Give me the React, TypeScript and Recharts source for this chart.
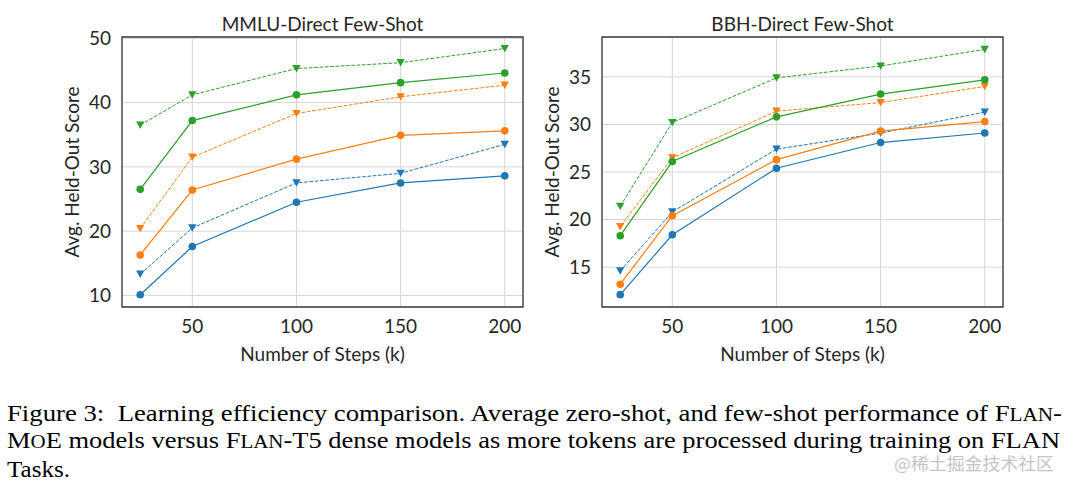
import React from 'react';
import { LineChart, Line, XAxis, YAxis, CartesianGrid, ReferenceArea } from 'recharts';

// ---- data ----
const steps = [25, 50, 100, 150, 200];
const xTicks = [50, 100, 150, 200];

const mmluTitle = 'MMLU-Direct Few-Shot';
const mmluTicks = [10, 20, 30, 40, 50];
const mmluBlueSolid = [10.1, 17.6, 24.5, 27.5, 28.6];
const mmluBlueDashed = [13.3, 20.5, 27.5, 29.0, 33.5];
const mmluOrangeSolid = [16.3, 26.4, 31.2, 34.9, 35.6];
const mmluOrangeDashed = [20.4, 31.5, 38.3, 40.9, 42.7];
const mmluGreenSolid = [26.5, 37.2, 41.2, 43.1, 44.6];
const mmluGreenDashed = [36.5, 41.2, 45.3, 46.2, 48.4];

const bbhTitle = 'BBH-Direct Few-Shot';
const bbhTicks = [15, 20, 25, 30, 35];
const bbhBlueSolid = [12.1, 18.4, 25.4, 28.1, 29.1];
const bbhBlueDashed = [14.6, 20.8, 27.4, 29.1, 31.3];
const bbhOrangeSolid = [13.2, 20.4, 26.3, 29.3, 30.3];
const bbhOrangeDashed = [19.25, 26.5, 31.4, 32.3, 34.0];
const bbhGreenSolid = [18.3, 26.1, 30.8, 33.2, 34.7];
const bbhGreenDashed = [21.4, 30.2, 34.9, 36.15, 37.9];

const yLabel = 'Avg. Held-Out Score';
const xLabel = 'Number of Steps (k)';

const BLUE = '#1f77b4';
const ORANGE = '#ff7f0e';
const GREEN = '#2ca02c';
const FONT = 'Lato, "DejaVu Sans", sans-serif';
const TEXT = '#262626';
const X_DOMAIN: [number, number] = [16.25, 208.75];

function TriangleDot(props: any) {
  const { cx, cy, fill, index } = props;
  if (cx == null || cy == null) return <g key={index} />;
  const d = `M${cx - 4.2},${cy - 3.6} L${cx + 4.2},${cy - 3.6} L${cx},${cy + 3.8} Z`;
  return <path key={index} d={d} fill={fill} stroke="none" />;
}

function makeTri(color: string) {
  return (p: any) => <TriangleDot {...p} key={p.index} fill={color} />;
}

function Panel(props: {
  left: number;
  title: string;
  yDomain: [number, number];
  yTicks: number[];
  bs: number[]; bd: number[]; os: number[]; od: number[]; gs: number[]; gd: number[];
}) {
  const { left, title, yDomain, yTicks, bs, bd, os, od, gs, gd } = props;
  const data = steps.map((s, i) => ({
    step: s, bs: bs[i], bd: bd[i], os: os[i], od: od[i], gs: gs[i], gd: gd[i],
  }));
  const solid = (key: string, color: string) => (
    <Line key={key} dataKey={key} stroke={color} strokeWidth={1.2} isAnimationActive={false}
      dot={{ r: 3.8, fill: color, stroke: color, strokeWidth: 0 }} activeDot={false} />
  );
  const dashed = (key: string, color: string) => (
    <Line key={key} dataKey={key} stroke={color} strokeWidth={1} strokeDasharray="3.7 1.6"
      isAnimationActive={false} dot={makeTri(color)} activeDot={false} />
  );
  return (
    <div style={{ position: 'absolute', left, top: 0, width: 540, height: 370 }}>
      <div style={{
        position: 'absolute', left: 122, top: 12, width: 401, textAlign: 'center',
        fontSize: 19, lineHeight: '24px', color: TEXT, fontFamily: FONT,
      }}>{title}</div>
      <LineChart width={540} height={370} data={data} margin={{ top: 37, right: 17, bottom: 0, left: 0 }}>
        <CartesianGrid stroke="#d6d6d6" strokeWidth={1} />
        <XAxis dataKey="step" type="number" domain={X_DOMAIN} ticks={xTicks} allowDataOverflow
          height={63} tickSize={0} tickMargin={13} axisLine={false} tickLine={false}
          tick={{ fontSize: 19, fill: TEXT, fontFamily: FONT }}
          label={{ value: xLabel, position: 'insideBottom', offset: 9, fontSize: 19, fill: TEXT, fontFamily: FONT }} />
        <YAxis type="number" domain={yDomain} ticks={yTicks} allowDataOverflow width={122}
          tickSize={0} tickMargin={11} axisLine={false} tickLine={false}
          tick={{ fontSize: 19, fill: TEXT, fontFamily: FONT }}
          label={{ value: yLabel, angle: -90, position: 'insideLeft', offset: 72, fontSize: 19, fill: TEXT, fontFamily: FONT, style: { textAnchor: 'middle' } }} />
        {solid('bs', BLUE)}
        {dashed('bd', BLUE)}
        {solid('os', ORANGE)}
        {dashed('od', ORANGE)}
        {solid('gs', GREEN)}
        {dashed('gd', GREEN)}
        <ReferenceArea x1={X_DOMAIN[0]} x2={X_DOMAIN[1]} y1={yDomain[0]} y2={yDomain[1]}
          fill="none" fillOpacity={0} stroke="#3a3a3a" strokeWidth={1.3} ifOverflow="visible" />
      </LineChart>
    </div>
  );
}

const SERIF = '"Liberation Serif", "Times New Roman", Times, serif';

function Caption() {
  const small = { fontSize: '19px' };
  const base: React.CSSProperties = { fontFamily: SERIF, fontSize: '24px', fill: '#000', whiteSpace: 'pre' };
  return (
    <svg width={1070} height={99} style={{ position: 'absolute', left: 0, top: 390 }}>
      <text x={7} y={30.5} textLength={1055} lengthAdjust="spacingAndGlyphs" style={base} xmlSpace="preserve">
        {'Figure 3:  Learning efficiency comparison. Average zero-shot, and few-shot performance of F'}
        <tspan style={small}>LAN</tspan>{'-'}
      </text>
      <text x={7} y={58} textLength={1053} lengthAdjust="spacingAndGlyphs" style={base} xmlSpace="preserve">
        {'M'}<tspan style={small}>O</tspan>{'E models versus F'}<tspan style={small}>LAN</tspan>
        {'-T5 dense models as more tokens are processed during training on FLAN'}
      </text>
      <text x={7} y={87} textLength={63} lengthAdjust="spacingAndGlyphs" style={base}>Tasks.</text>
      <text x={894} y={80} textLength={160} lengthAdjust="spacingAndGlyphs"
        style={{ fontFamily: '"Noto Sans CJK SC", sans-serif', fontSize: '16.5px', fill: '#c4c4c4' }}>@稀土掘金技术社区</text>
    </svg>
  );
}

export default function App() {
  return (
    <div style={{ position: 'absolute', left: 0, top: 0, width: 1070, height: 489, background: '#fff', overflow: 'hidden' }}>
      <Panel left={0} title={mmluTitle} yDomain={[8.2, 50.2]} yTicks={mmluTicks}
        bs={mmluBlueSolid} bd={mmluBlueDashed} os={mmluOrangeSolid} od={mmluOrangeDashed}
        gs={mmluGreenSolid} gd={mmluGreenDashed} />
      <Panel left={480} title={bbhTitle} yDomain={[10.8, 39.2]} yTicks={bbhTicks}
        bs={bbhBlueSolid} bd={bbhBlueDashed} os={bbhOrangeSolid} od={bbhOrangeDashed}
        gs={bbhGreenSolid} gd={bbhGreenDashed} />
      <Caption />
    </div>
  );
}
